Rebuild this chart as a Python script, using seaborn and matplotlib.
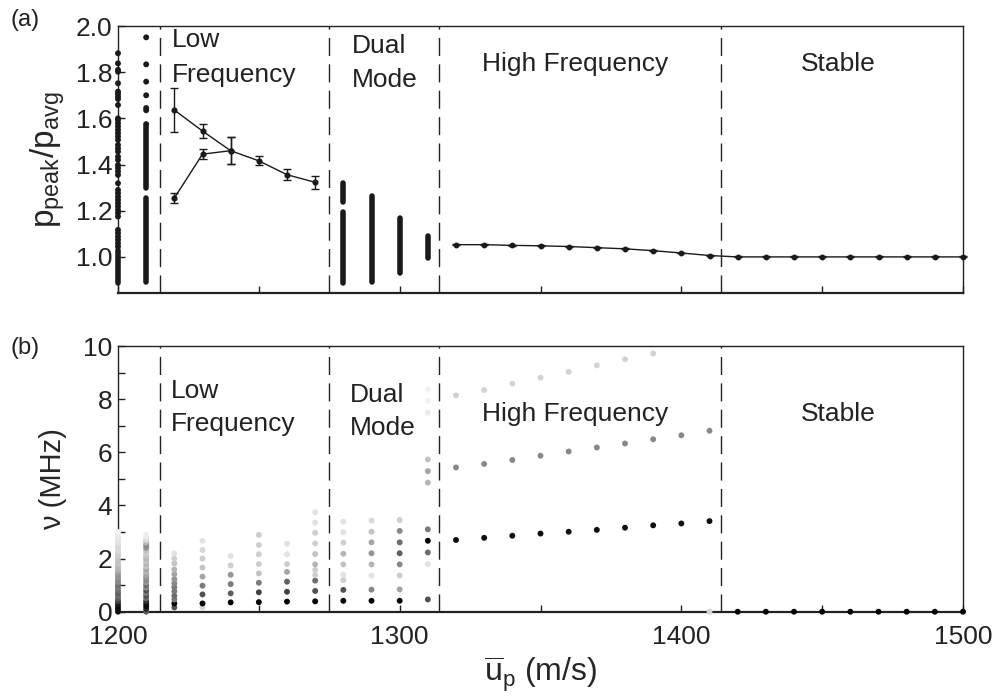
import numpy as np
import pandas as pd
import matplotlib
matplotlib.use("Agg")
import matplotlib.pyplot as plt
import seaborn as sns

# ---------------- panel (a) data ----------------
col1200_pts = [1.882, 1.838, 1.81, 1.802, 1.752, 1.716, 1.706, 1.694, 1.684, 1.658,
               1.60, 1.593, 1.579, 1.565, 1.55, 1.536, 1.522, 1.507, 1.485, 1.47,
               1.456, 1.434, 1.42, 1.398, 1.385, 1.37, 1.355, 1.319, 1.29, 1.276,
               1.261, 1.247, 1.233, 1.219, 1.204, 1.19, 1.175, 1.117, 1.103, 1.088,
               1.074, 1.059, 1.045]
col1210_pts = [1.951, 1.834, 1.759, 1.70, 1.645, 1.635, 1.575]
# dense bands of single-shot values: position, lowest, highest
band_x = [1200, 1210, 1210, 1280, 1280, 1290, 1300, 1310]
band_lo = [0.886, 0.89, 1.30, 0.886, 1.236, 0.893, 0.93, 0.994]
band_hi = [1.03, 1.254, 1.565, 1.196, 1.322, 1.264, 1.167, 1.091]

lf_upper_x = [1220, 1230, 1240, 1250, 1260, 1270]
lf_upper_y = [1.636, 1.545, 1.46, 1.416, 1.356, 1.323]
lf_upper_err = [0.095, 0.03, 0.058, 0.02, 0.025, 0.027]
lf_lower_x = [1220, 1230, 1240]
lf_lower_y = [1.255, 1.445, 1.46]
lf_lower_err = [0.02, 0.022, 0.058]

hf_x = [1320, 1330, 1340, 1350, 1360, 1370, 1380, 1390, 1400, 1410,
        1420, 1430, 1440, 1450, 1460, 1470, 1480, 1490, 1500]
hf_y = [1.053, 1.053, 1.050, 1.048, 1.045, 1.040, 1.035, 1.027, 1.017, 1.006,
        1.0, 1.0, 1.0, 1.0, 1.0, 1.0, 1.0, 1.0, 1.0]

# ---------------- panel (b) data: frequency (MHz) and darkness (0 white .. 1 black) ----
smear_f = [0.0, 0.1, 0.2, 0.3, 0.4, 0.5, 0.6, 0.7, 0.8, 0.9, 1.0, 1.1, 1.2, 1.3, 1.4, 1.5,
           1.6, 1.7, 1.8, 1.9, 2.0, 2.1, 2.2, 2.3, 2.4, 2.5, 2.6, 2.7, 2.8, 2.9, 3.0]
d1200 = [0.95, 0.95, 0.95, 0.9, 0.8, 0.7, 0.65, 0.7, 0.65, 0.6, 0.65, 0.55, 0.55, 0.5, 0.5,
         0.45, 0.4, 0.4, 0.35, 0.35, 0.35, 0.3, 0.3, 0.25, 0.25, 0.25, 0.2, 0.2, 0.18, 0.15, 0.12]
d1210 = [0.7, 0.85, 0.95, 0.95, 0.85, 0.65, 0.75, 0.6, 0.75, 0.55, 0.65, 0.5, 0.55, 0.5, 0.45,
         0.4, 0.45, 0.35, 0.4, 0.35, 0.4, 0.35, 0.3, 0.35, 0.5, 0.55, 0.4, 0.25, 0.18, 0.14, 0.0]

f1220 = [0.16, 0.31, 0.46, 0.6, 0.77, 0.92, 1.07, 1.22, 1.41, 1.59, 1.82, 2.0, 2.2]
d1220 = [0.75, 1.0, 0.6, 0.65, 0.6, 0.6, 0.55, 0.5, 0.45, 0.4, 0.35, 0.3, 0.2]
f1230 = [0.16, 0.31, 0.65, 0.98, 1.32, 1.66, 2.0, 2.32, 2.67]
d1230 = [0.25, 1.0, 0.75, 0.6, 0.45, 0.35, 0.3, 0.25, 0.2]
f1240 = [0.35, 0.69, 1.04, 1.39, 1.74, 2.1]
d1240 = [1.0, 0.7, 0.6, 0.5, 0.3, 0.2]
f1250 = [0.36, 0.73, 1.09, 1.44, 1.79, 2.16, 2.51, 2.89]
d1250 = [1.0, 0.8, 0.6, 0.35, 0.3, 0.3, 0.3, 0.3]
f1260 = [0.38, 0.75, 1.13, 1.5, 1.79, 2.16, 2.56]
d1260 = [1.0, 0.8, 0.7, 0.45, 0.3, 0.2, 0.2]
f1270 = [0.39, 0.78, 1.17, 1.38, 1.57, 1.78, 2.17, 2.57, 2.97, 3.35, 3.75]
d1270 = [1.0, 0.75, 0.65, 0.3, 0.3, 0.4, 0.35, 0.3, 0.3, 0.2, 0.2]
f1280 = [0.41, 0.82, 1.19, 1.39, 1.78, 2.18, 2.6, 2.99, 3.39]
d1280 = [1.0, 0.75, 0.3, 0.2, 0.35, 0.4, 0.3, 0.2, 0.2]
f1290 = [0.41, 0.83, 1.36, 1.78, 2.2, 2.61, 3.01, 3.43]
d1290 = [1.0, 0.55, 0.2, 0.4, 0.5, 0.45, 0.35, 0.25]
f1300 = [0.41, 0.84, 1.36, 1.78, 2.2, 2.61, 3.04, 3.45]
d1300 = [1.0, 0.45, 0.3, 0.55, 0.7, 0.65, 0.55, 0.3]
f1310 = [0.46, 1.79, 2.23, 2.67, 3.1, 4.86, 5.29, 5.73, 7.49, 7.93, 8.37]
d1310 = [0.75, 0.2, 0.65, 1.0, 0.6, 0.4, 0.45, 0.35, 0.15, 0.12, 0.12]

hf_pos = [1320, 1330, 1340, 1350, 1360, 1370, 1380, 1390, 1400, 1410]
hf_f1 = [2.70, 2.78, 2.86, 2.94, 3.01, 3.08, 3.16, 3.25, 3.32, 3.41]
hf_f2 = [5.43, 5.56, 5.71, 5.87, 6.03, 6.18, 6.33, 6.49, 6.64, 6.81]
hf_pos3 = [1320, 1330, 1340, 1350, 1360, 1370, 1380, 1390]
hf_f3 = [8.14, 8.34, 8.58, 8.81, 9.03, 9.27, 9.50, 9.72]
hf_d = [0.95, 0.55, 0.28]
zero_pos = [1410, 1420, 1430, 1440, 1450, 1460, 1470, 1480, 1490, 1500]
zero_d = [0.28, 1.0, 1.0, 1.0, 1.0, 1.0, 1.0, 1.0, 1.0, 1.0]

regime_bounds = [1215, 1275, 1314, 1414]

# ---------------- build long tables ----------------
rows = []
def add(xpos, fs, ds):
    for f, d in zip(fs, ds):
        rows.append((xpos, f, d))

add(1200, smear_f, d1200)
add(1210, smear_f[:30], d1210[:30])
add(1220, f1220, d1220)
add(1230, f1230, d1230)
add(1240, f1240, d1240)
add(1250, f1250, d1250)
add(1260, f1260, d1260)
add(1270, f1270, d1270)
add(1280, f1280, d1280)
add(1290, f1290, d1290)
add(1300, f1300, d1300)
add(1310, f1310, d1310)
for p, f in zip(hf_pos, hf_f1):
    rows.append((p, f, hf_d[0]))
for p, f in zip(hf_pos, hf_f2):
    rows.append((p, f, hf_d[1]))
for p, f in zip(hf_pos3, hf_f3):
    rows.append((p, f, hf_d[2]))
for p, d in zip(zero_pos, zero_d):
    rows.append((p, 0.0, d))
dfb = pd.DataFrame(rows, columns=["u", "nu", "dark"])

dfa = pd.DataFrame({"u": [1200] * len(col1200_pts) + [1210] * len(col1210_pts),
                    "r": col1200_pts + col1210_pts})

# ---------------- drawing ----------------
sns.set_theme(style="ticks")
plt.rcParams["font.family"] = ["Liberation Sans", "DejaVu Sans"]
plt.rcParams["mathtext.fontset"] = "custom"
plt.rcParams["mathtext.rm"] = "Liberation Sans"
plt.rcParams["mathtext.it"] = "Liberation Sans"
plt.rcParams["mathtext.bf"] = "Liberation Sans:bold"

W, H = 997, 700
fig = plt.figure(figsize=(W / 100, H / 100), dpi=100)
axA = fig.add_axes([118 / W, 1 - 292.7 / H, 845 / W, 266.7 / H])
axB = fig.add_axes([118 / W, 1 - 611.7 / H, 845 / W, 265.7 / H])

ink = "#1a1a1a"
tick_fs = 19
reg_fs = 19

for ax in (axA, axB):
    ax.set_xlim(1200, 1500)
    for s in ax.spines.values():
        s.set_color("#222222")
        s.set_linewidth(1.0)
    ax.spines["bottom"].set_linewidth(1.6)
    ax.tick_params(direction="in", length=5, width=1, colors="#222222",
                   labelsize=tick_fs, labelcolor="#222222", pad=4)
    ax.set_xticks([1200, 1250, 1300, 1350, 1400, 1450, 1500])
    for xb in regime_bounds:
        ax.axvline(xb, color="#222222", lw=1.0, dashes=(13, 6), zorder=1)

# panel (a)
axA.set_ylim(0.845, 2.0)
axA.set_yticks([1.0, 1.2, 1.4, 1.6, 1.8, 2.0])
axA.set_yticklabels(["1.0", "1.2", "1.4", "1.6", "1.8", "2.0"])
axA.set_xticklabels([])
bands = axA.vlines(band_x, band_lo, band_hi, color=ink, lw=4.0, zorder=3)
bands.set_capstyle("round")
bands.set_clip_on(False)
sns.scatterplot(data=dfa, x="u", y="r", ax=axA, color=ink, s=18, edgecolor="none",
                legend=False, zorder=4, clip_on=False)
axA.errorbar(lf_upper_x, lf_upper_y, yerr=lf_upper_err, color=ink, lw=1.0,
             marker="o", ms=3.4, capsize=3, elinewidth=1.0, capthick=1.0, zorder=4)
axA.errorbar(lf_lower_x, lf_lower_y, yerr=lf_lower_err, color=ink, lw=1.0,
             marker="o", ms=3.4, capsize=3, elinewidth=1.0, capthick=1.0, zorder=4)
axA.errorbar(hf_x, hf_y, yerr=0.002, color=ink, lw=1.0, marker="o", ms=3.2,
             capsize=3, elinewidth=1.0, capthick=1.0, zorder=4, clip_on=False)
axA.set_xlabel("")
axA.set_ylabel(r"$\mathregular{p_{peak}/p_{avg}}$", fontsize=24, labelpad=6)

# panel (b)
axB.set_ylim(0, 10)
axB.set_yticks([0, 1, 2, 3, 4, 5, 6, 7, 8, 9, 10])
axB.set_yticklabels(["0", "", "2", "", "4", "", "6", "", "8", "", "10"])
axB.set_xticklabels(["1200", "", "1300", "", "1400", "", "1500"])
axB.tick_params(axis="x", pad=9.5)
sns.scatterplot(data=dfb, x="u", y="nu", hue="dark", palette="Greys", hue_norm=(0, 1),
                ax=axB, s=18, edgecolor="none", legend=False, zorder=4, clip_on=False)
axB.set_ylabel("ν (MHz)", fontsize=21, labelpad=12)
axB.set_xlabel(r"$\mathregular{\overline{u}_p}$ (m/s)", fontsize=23, labelpad=4)

# regime labels
txt = dict(color="#222222", fontsize=reg_fs)
axA.text(1219, 1.910, "Low", ha="left", va="baseline", **txt)
axA.text(1219, 1.759, "Frequency", ha="left", va="baseline", **txt)
axA.text(1283, 1.882, "Dual", ha="left", va="baseline", **txt)
axA.text(1283, 1.737, "Mode", ha="left", va="baseline", **txt)
axA.text(1362.3, 1.805, "High Frequency", ha="center", va="baseline", **txt)
axA.text(1455.7, 1.805, "Stable", ha="center", va="baseline", **txt)

axB.text(1218.7, 8.03, "Low", ha="left", va="baseline", **txt)
axB.text(1218.7, 6.81, "Frequency", ha="left", va="baseline", **txt)
axB.text(1282.4, 7.90, "Dual", ha="left", va="baseline", **txt)
axB.text(1282.4, 6.65, "Mode", ha="left", va="baseline", **txt)
axB.text(1362.3, 7.18, "High Frequency", ha="center", va="baseline", **txt)
axB.text(1455.7, 7.18, "Stable", ha="center", va="baseline", **txt)

fig.text(10 / W, 1 - 20 / H, "(a)", fontsize=17, va="center", ha="left", color="#222222")
fig.text(10 / W, 1 - 348 / H, "(b)", fontsize=17, va="center", ha="left", color="#222222")

fig.savefig("out.png", dpi=100)
